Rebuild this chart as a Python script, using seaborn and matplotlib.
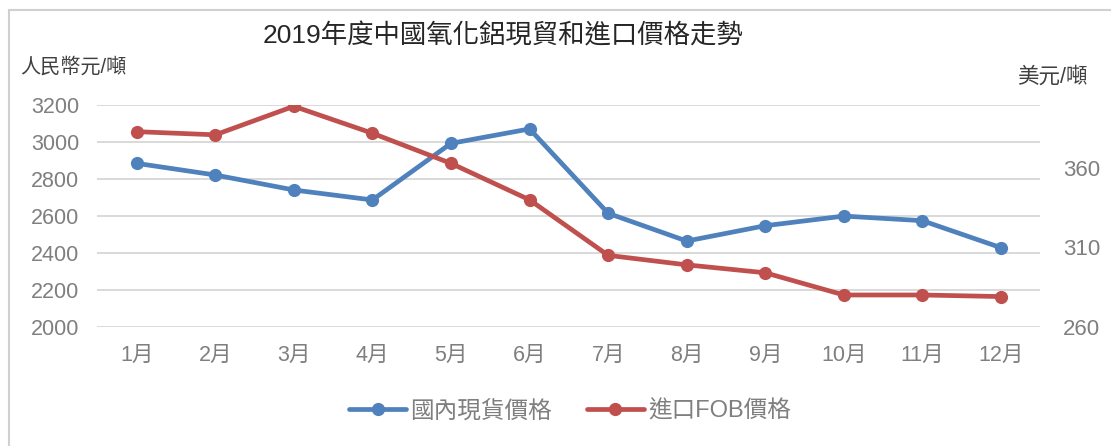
import matplotlib
matplotlib.use("Agg")
import matplotlib.pyplot as plt
import seaborn as sns
import pandas as pd
from matplotlib.patches import Rectangle
from matplotlib.lines import Line2D

months = ["1月", "2月", "3月", "4月", "5月", "6月", "7月", "8月", "9月", "10月", "11月", "12月"]
domestic_rmb = [2883, 2820, 2739, 2685, 2991, 3069, 2613, 2463, 2546, 2598, 2573, 2427]
import_fob_usd = [383, 381, 399, 382, 363, 340, 305, 299, 294, 280, 280, 279]
left_ticks = [2000, 2200, 2400, 2600, 2800, 3000, 3200]
right_ticks = [260, 310, 360]

title = "2019年度中國氧化鋁現貿和進口價格走勢"
left_label = "人民幣元/噸"
right_label = "美元/噸"
series_names = ["國內現貨價格", "進口FOB價格"]

blue = "#4F81BD"
red = "#C0504D"
grid_c = "#D9D9D9"
tick_c = "#7F7F7F"

sns.set_theme(style="white")
plt.rcParams['font.family'] = ['Liberation Sans', 'Noto Sans CJK TC', 'DejaVu Sans']

df = pd.DataFrame({"month": months, "dom": domestic_rmb, "imp": import_fob_usd})

fig = plt.figure(figsize=(11.11, 4.46), dpi=100)
ax = fig.add_axes([97.4 / 1111, 1 - 326.7 / 446, (1040.3 - 97.4) / 1111, (326.7 - 104.7) / 446])
ax2 = ax.twinx()

lw = 3.4
ms = 9.5
sns.lineplot(data=df, x="month", y="dom", ax=ax, color=blue, lw=lw, marker="o",
             markersize=ms, markeredgewidth=0, sort=False, zorder=3)
sns.lineplot(data=df, x="month", y="imp", ax=ax2, color=red, lw=lw, marker="o",
             markersize=ms, markeredgewidth=0, sort=False, zorder=3)

ax.set_xlim(-0.5, len(months) - 0.5)
ax.set_ylim(2000, 3200)
ax2.set_ylim(260, 400)
ax.set_yticks(left_ticks)
ax2.set_yticks(right_ticks)
ax.set_xlabel("")
ax.set_ylabel("")
ax2.set_ylabel("")

ax.grid(axis="y", color=grid_c, lw=1.4)
ax.set_axisbelow(True)
ax2.grid(False)
for a in (ax, ax2):
    for s in a.spines.values():
        s.set_visible(False)

fs = 15.5
ax.tick_params(axis="y", length=0, pad=13, labelsize=fs, labelcolor=tick_c)
ax.tick_params(axis="x", length=0, pad=13, labelsize=fs, labelcolor=tick_c)
ax2.tick_params(axis="y", length=0, pad=16.5, labelsize=16, labelcolor=tick_c)

fig.text(503 / 1111, 1 - 36 / 446, title, ha="center", va="center", fontsize=19, color="#262626")
fig.text(20 / 1111, 1 - 67 / 446, left_label, ha="left", va="center", fontsize=14.5, color="#404040")
fig.text(1017 / 1111, 1 - 77 / 446, right_label, ha="left", va="center", fontsize=15.5, color="#404040")

handles = [Line2D([], [], color=blue, lw=lw, marker="o", markersize=ms, markeredgewidth=0),
           Line2D([], [], color=red, lw=lw, marker="o", markersize=ms, markeredgewidth=0)]
fig.legend(handles, series_names, loc="center", bbox_to_anchor=(570 / 1111, 1 - 411 / 446),
           ncol=2, frameon=False, fontsize=17, labelcolor=tick_c, handlelength=2.4,
           handletextpad=0.17, columnspacing=1.5)

fig.patches.append(Rectangle((9 / 1111, -0.2), 1.2, 1.2 - 10 / 446, transform=fig.transFigure,
                             fill=False, edgecolor="#D0D0D0", lw=1.5, zorder=0))

fig.savefig("out.png", dpi=100)
